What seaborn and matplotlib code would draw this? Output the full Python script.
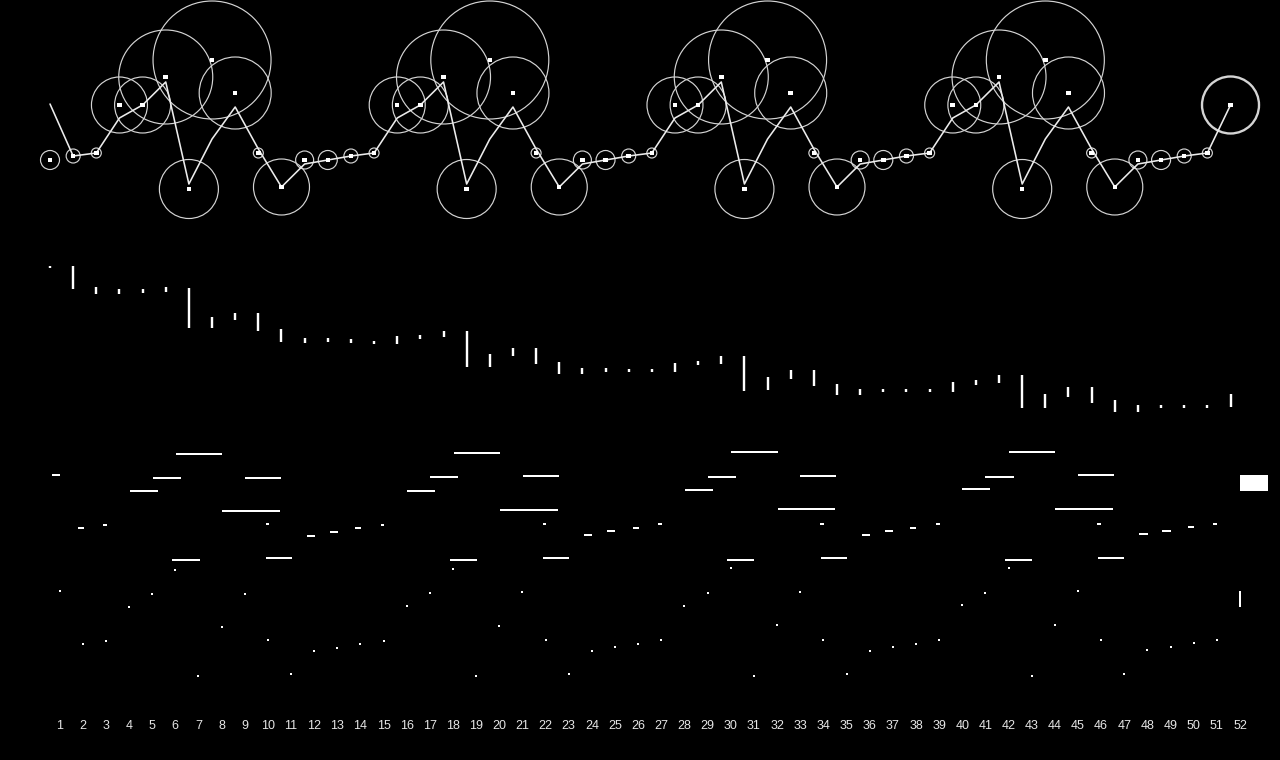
import numpy as np
import pandas as pd
import matplotlib
matplotlib.use("Agg")
import matplotlib.pyplot as plt
import seaborn as sns

# ---------------- data ----------------
weeks = list(range(1, 53))
week_labels = [str(w) for w in weeks]

# top panel: marker level, circle radius, connecting line level
top_marker_y = [160,
                156, 153, 105, 105, 77, 189, 60, 93, 153, 187, 160, 160,
                156, 153, 105, 105, 77, 189, 60, 93, 153, 187, 160, 160,
                156, 153, 105, 105, 77, 189, 60, 93, 153, 187, 160, 160,
                156, 153, 105, 105, 77, 189, 60, 93, 153, 187, 160, 160,
                156, 153, 105]
top_radius = [9.5,
              7, 5, 28, 28, 47, 29.5, 59, 36, 5, 28, 9, 9.5,
              7, 5, 28, 28, 47, 29.5, 59, 36, 5, 28, 9, 9.5,
              7, 5, 28, 28, 47, 29.5, 59, 36, 5, 28, 9, 9.5,
              7, 5, 28, 28, 47, 29.5, 59, 36, 5, 28, 9, 9.5,
              7, 5, 28.5]
top_line_y = [104,
              156, 153, 118, 105, 82, 184, 139, 107, 149, 187, 164, 160,
              156, 153, 118, 105, 82, 184, 139, 107, 149, 187, 164, 160,
              156, 153, 118, 105, 82, 184, 139, 107, 149, 187, 164, 160,
              156, 153, 118, 105, 82, 184, 139, 107, 149, 187, 164, 160,
              156, 153, 105]

# middle panel: range bars
mid_top = [266, 266, 287, 289, 289, 287.3, 288, 317, 312.7, 313, 328.7, 338, 338,
           339.3, 340.7, 336, 335, 330.5, 330.7, 353.7, 348, 348, 362, 368, 368,
           369, 369, 363, 361, 356, 356.3, 377, 370, 370, 383.7, 389, 389,
           389, 389, 382, 380, 375, 375, 394, 387, 387, 400, 405, 405,
           405, 405, 394]
mid_bottom = [268, 289, 293.7, 293.7, 292.7, 292.3, 328.3, 328.3, 319.7, 330.7, 342, 342.7, 342,
              343, 344.3, 344, 339, 336.7, 366.7, 366.7, 355.7, 364, 374, 374, 371.7,
              372, 372, 372, 365.3, 363.7, 390.7, 390.3, 379, 385.7, 395, 395, 392,
              392, 392, 391.7, 384.7, 382.7, 408, 408, 397, 403, 412, 412, 408,
              408, 408, 407]

# bottom panel: horizontal spans and dots
dash_y = [475, 527.7, 524.7, 491, 478, 560.3, 454, 510.7, 478.3, 524.3, 558, 535.7, 531.7,
          528, 524.7, 490.7, 477.3, 560.3, 452.5, 509.7, 476, 523.7, 558, 535, 531.3,
          527.7, 524, 489.7, 476.7, 559.7, 452.3, 509.3, 475.7, 523.7, 558, 534.7, 531.3,
          527.7, 524, 489.3, 476.7, 560, 452, 508.7, 475, 523.7, 558, 534.3, 531,
          527.3, 524, 491]
dash_start = [0.69, 1.79, 2.90, 4.04, 5.03, 5.87, 6.04, 8.04, 9.03, 9.90, 9.91, 11.68, 12.67,
              13.78, 14.88, 16.03, 17.02, 17.86, 18.03, 20.01, 21.02, 21.87, 21.90, 23.67, 24.67,
              25.77, 26.87, 28.02, 29.03, 29.85, 30.02, 32.02, 33.01, 33.86, 33.91, 35.68, 36.66,
              37.75, 38.86, 40.01, 41.00, 41.84, 42.01, 44.01, 45.00, 45.84, 45.88, 47.65, 48.63,
              49.75, 50.85, 52.00]
dash_end = [1.04, 2.05, 3.04, 5.25, 6.26, 7.05, 8.04, 10.54, 10.59, 10.04, 11.05, 12.04, 13.04,
            14.04, 15.04, 17.24, 18.23, 19.04, 20.03, 22.54, 22.58, 22.03, 23.02, 24.02, 25.02,
            26.03, 27.03, 29.23, 30.22, 31.01, 32.02, 34.51, 34.55, 34.02, 35.02, 36.02, 37.02,
            38.01, 39.02, 41.22, 42.23, 43.01, 44.01, 46.52, 46.56, 46.00, 47.00, 48.01, 49.01,
            50.01, 51.01, 53.21]
dot_y = [591, 643.7, 640.7, 607, 594, 570, 676, 626.7, 594, 640, 673.7, 651.3, 647.7,
         643.7, 640.7, 606.3, 593, 568.7, 676, 625.7, 592, 639.7, 674, 651, 647.3,
         643.7, 640, 605.7, 592.7, 568, 675.7, 625.3, 591.7, 640, 674, 650.7, 647.3,
         643.7, 640, 605.3, 593, 568, 676, 624.7, 591, 640, 673.7, 650.3, 647,
         643.3, 640.3, 607]

# ---------------- style ----------------
sns.set_theme(style="dark")
plt.rcParams.update({
    "figure.facecolor": "black",
    "axes.facecolor": "black",
    "savefig.facecolor": "black",
    "axes.edgecolor": "black",
})
plt.rcParams["font.family"] = ["Liberation Sans", "DejaVu Sans"]

PX = 0.72  # points per pixel at 100 dpi
SHIFT = 0.41  # top/middle marks sit left of the week tick

fig = plt.figure(figsize=(12.8, 7.6), dpi=100)
ax = fig.add_axes([0, 48 / 760, 1, 712 / 760])
ax.set_facecolor("black")
for s in ax.spines.values():
    s.set_visible(False)

wk = np.array(weeks, dtype=float)
x_top = wk - SHIFT

top_df = pd.DataFrame({"x": x_top, "marker": top_marker_y, "r": top_radius, "line": top_line_y})

# circles
sns.scatterplot(data=top_df, x="x", y="marker", s=(2 * np.array(top_radius) * PX) ** 2,
                marker="o", ax=ax, legend=False, zorder=2)
circ = ax.collections[-1]
circ.set_facecolor("none")
circ.set_edgecolor("#d4d4d4")
lws = [0.85] * 51 + [1.7]
circ.set_linewidths(lws)

# connecting line
sns.lineplot(data=top_df, x="x", y="line", sort=False, estimator=None,
             color="#ececec", linewidth=1.15, ax=ax, zorder=3)

# squares
sns.scatterplot(data=top_df, x="x", y="marker", marker="s", s=(4.5 * PX) ** 2,
                color="white", edgecolor="none", linewidth=0, ax=ax, legend=False, zorder=4)

# middle range bars
ax.vlines(x_top, mid_top, mid_bottom, color="white", linewidth=2.4 * PX, zorder=3)

# bottom spans
ax.hlines(dash_y[:-1], dash_start[:-1], dash_end[:-1], color="white", linewidth=2.0 * PX, zorder=3)
ax.fill_between([dash_start[-1], dash_end[-1]], dash_y[0], dash_y[-1], color="white", linewidth=0, zorder=3)

# bottom dots
bot_df = pd.DataFrame({"x": wk[:-1], "y": dot_y[:-1]})
sns.scatterplot(data=bot_df, x="x", y="y", marker="s", s=(2.0 * PX) ** 2,
                color="white", edgecolor="none", linewidth=0, ax=ax, legend=False, zorder=3)
ax.vlines([wk[-1]], dot_y[0], dot_y[-1], color="white", linewidth=2.0 * PX, zorder=3)

# axes
px_per_week = (1240 - 59.5) / 51
xl = 1 - 59.5 / px_per_week
ax.set_xlim(xl, xl + 1280 / px_per_week)
ax.set_ylim(712, 0)
ax.set_xticks(weeks)
ax.set_xticklabels(week_labels)
ax.set_yticks([])
ax.tick_params(axis="x", length=0, pad=6, colors="#e6e6e6", labelsize=9)
ax.set_xlabel("")
ax.set_ylabel("")
ax.grid(False)

fig.savefig("out.png", dpi=100, facecolor="black")
